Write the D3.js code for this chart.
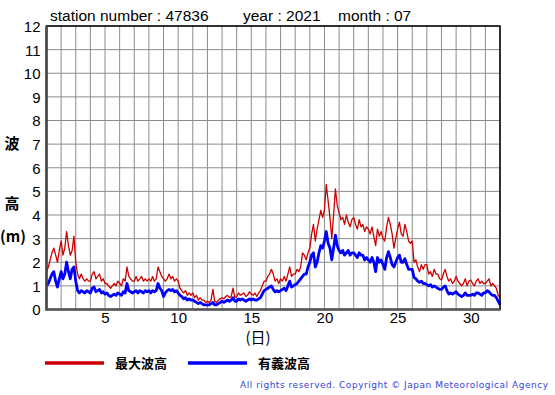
<!DOCTYPE html>
<html>
<head>
  <meta charset="utf-8">
  <title>wave height 47836 2021-07</title>
  <script src="https://cdn.jsdelivr.net/npm/d3@7/dist/d3.min.js"></script>
  <style>
    body { margin: 0; background: white; }
    svg { display: block; }
    .tick text { font-family: "Liberation Sans", Arial, sans-serif; font-size: 15px; fill: #000; }
    .ja { font-family: "Noto Sans CJK JP", sans-serif; }
  </style>
</head>
<body>
<div id="chart"></div>
<script>
// 3-hourly readings, starting day 1 00h, 8 per day, last value = day 32 00h
var maxWave = [
  1.6, 1.8, 2.1, 2.4, 2.6, 2.3, 2.0, 2.5,
  2.9, 2.3, 2.6, 3.3, 2.7, 2.3, 2.5, 3.1,
  2.0, 1.5, 1.3, 1.5, 1.3, 1.2, 1.3, 1.2,
  1.2, 1.5, 1.6, 1.3, 1.4, 1.5, 1.2, 1.3,
  1.1, 1.1, 1.0, 0.9, 1.0, 1.1, 1.0, 1.2,
  1.1, 1.0, 1.3, 1.2, 1.8, 1.4, 1.3, 1.2,
  1.2, 1.4, 1.2, 1.3, 1.4, 1.2, 1.3, 1.2,
  1.3, 1.2, 1.4, 1.2, 1.3, 1.8, 1.6, 1.4,
  1.3, 1.2, 1.3, 1.5, 1.3, 1.4, 1.2, 1.3,
  1.2, 0.9, 0.8, 0.7, 0.8, 0.6, 0.7, 0.6,
  0.7, 0.5, 0.6, 0.4, 0.5, 0.4, 0.4, 0.3,
  0.35, 0.3, 0.4, 0.85, 0.35, 0.3, 0.4, 0.45,
  0.5, 0.45, 0.55, 0.6, 0.5, 0.55, 0.9, 0.5,
  0.55, 0.7, 0.6, 0.65, 0.7, 0.55, 0.6, 0.75,
  0.65, 0.6, 0.7, 0.55, 0.7, 0.8, 1.0, 1.2,
  1.2, 1.4, 1.5, 1.7, 1.5, 1.2, 1.3, 1.1,
  1.3, 1.2, 1.4, 1.2, 1.5, 1.8, 1.4, 1.5,
  1.5, 1.7, 1.6, 1.8, 2.4, 2.3, 2.1, 2.4,
  2.6, 3.2, 3.6, 2.9, 3.4, 3.8, 4.2, 3.9,
  4.2, 5.3, 4.6, 3.9, 3.0, 4.0, 5.1, 4.4,
  4.1, 3.8, 3.9, 3.6, 4.0, 3.7, 3.5, 3.8,
  3.9, 3.6, 3.4, 3.8, 3.5, 3.6, 3.3, 3.5,
  3.4, 3.2, 3.5, 3.1, 2.7, 3.4, 3.1, 3.3,
  3.0, 2.9, 3.5, 3.9, 3.6, 3.2, 2.6, 3.0,
  3.4, 3.7, 3.2, 3.1, 3.6, 3.3, 2.9, 2.8,
  2.9, 2.0, 2.1, 1.8, 1.6, 1.9, 1.7, 1.9,
  1.9, 1.5, 1.6, 1.4, 1.7, 1.5, 1.5, 1.3,
  1.25, 1.5, 1.7, 1.4, 1.2, 1.3, 1.1, 1.2,
  1.4, 1.2, 1.1, 1.0, 1.1, 1.3, 1.0, 1.2,
  1.25, 1.1, 1.0, 1.2, 1.3, 1.1, 1.2, 1.1,
  1.1, 1.2, 1.3, 1.0, 1.1, 1.0, 0.9, 0.6,
  0.5
];
var sigWave = [
  1.0, 1.1, 1.3, 1.5, 1.6, 1.2, 0.95, 1.3,
  1.6, 1.3, 1.5, 2.0, 1.6, 1.3, 1.7, 1.8,
  1.2, 0.8, 0.7, 0.8, 0.75, 0.7, 0.8, 0.75,
  0.7, 0.9, 0.95, 0.75, 0.8, 0.85, 0.7, 0.75,
  0.65, 0.7, 0.6, 0.55, 0.6, 0.65, 0.6, 0.7,
  0.65, 0.6, 0.75, 0.7, 1.1, 0.8, 0.75, 0.7,
  0.75, 0.8, 0.7, 0.8, 0.75, 0.7, 0.8, 0.75,
  0.8, 0.7, 0.8, 0.75, 0.8, 1.1, 0.9, 0.8,
  0.55, 0.7, 0.8, 0.85, 0.8, 0.85, 0.75, 0.8,
  0.7, 0.6, 0.55, 0.45, 0.5, 0.4, 0.45, 0.4,
  0.4, 0.35, 0.3, 0.25, 0.3, 0.25, 0.2, 0.2,
  0.2, 0.2, 0.25, 0.3, 0.2, 0.2, 0.25, 0.3,
  0.35, 0.3, 0.35, 0.4, 0.35, 0.4, 0.5, 0.35,
  0.35, 0.45, 0.4, 0.45, 0.4, 0.35, 0.4, 0.45,
  0.4, 0.45, 0.4, 0.4, 0.45, 0.5, 0.65, 0.8,
  0.85, 0.9, 0.95, 1.0, 0.85, 0.75, 0.8, 0.75,
  0.8, 0.85, 0.9, 0.8, 1.0, 1.2, 0.95, 1.0,
  1.05, 1.1, 1.2, 1.3, 1.4, 1.5, 1.5, 1.8,
  2.0, 2.3, 2.4, 1.8, 2.0, 2.4, 2.7, 2.6,
  2.9, 3.3, 2.8, 2.6, 2.1, 2.6, 3.15, 2.7,
  2.5, 2.4, 2.5, 2.3, 2.4, 2.5, 2.3, 2.4,
  2.4, 2.3, 2.2, 2.4, 2.3, 2.3, 2.1, 2.2,
  2.1, 2.0, 2.2, 2.0, 1.6, 2.2, 2.0, 2.1,
  1.9, 1.7, 2.2, 2.45, 2.2, 1.9, 1.8, 2.0,
  2.2, 2.3, 2.0, 2.0, 2.15, 1.9, 1.7, 1.7,
  1.7, 1.35, 1.3, 1.2, 1.15, 1.2, 1.1, 1.1,
  1.05, 1.0, 1.05, 0.95, 1.0, 0.95, 0.9, 0.85,
  0.85, 0.95, 1.0, 0.8, 0.65, 0.7, 0.65, 0.7,
  0.75, 0.65, 0.6, 0.55, 0.6, 0.7, 0.6, 0.6,
  0.6, 0.65, 0.6, 0.7, 0.7, 0.65, 0.6, 0.7,
  0.7, 0.8, 0.75, 0.65, 0.6, 0.6, 0.5, 0.35,
  0.2
];
var stepsPerDay = 8;
var yTicks = [0, 1, 2, 3, 4, 5, 6, 7, 8, 9, 10, 11, 12];
var xTicks = [5, 10, 15, 20, 25, 30];
var titleParts = [
  {text: 'station number : 47836', x: 50},
  {text: 'year : 2021', x: 243},
  {text: 'month : 07', x: 338}
];
var legendItems = [
  {name: '最大波高', color: '#cc0000'},
  {name: '有義波高', color: '#0000ff'}
];

var W = 555, H = 395;
var svg = d3.select('#chart').append('svg').attr('width', W).attr('height', H);

var x = d3.scaleLinear().domain([1, 32]).range([46.5, 500]);
var y = d3.scaleLinear().domain([0, 12]).range([309.5, 26]);

// grid
svg.append('g').selectAll('line').data(d3.range(1, 33))
  .enter().append('line')
  .attr('x1', function (d) { return x(d); }).attr('x2', function (d) { return x(d); })
  .attr('y1', y(0)).attr('y2', y(12))
  .attr('stroke', '#8c8c8c').attr('stroke-width', 1);
svg.append('g').selectAll('line').data(yTicks)
  .enter().append('line')
  .attr('x1', x(1)).attr('x2', x(32))
  .attr('y1', function (d) { return y(d); }).attr('y2', function (d) { return y(d); })
  .attr('stroke', '#8c8c8c').attr('stroke-width', 1);

// series
function dayOf(i) { return 1 + i / stepsPerDay; }
var line = d3.line()
  .x(function (d, i) { return x(dayOf(i)); })
  .y(function (d) { return y(d); });

svg.append('path').datum(maxWave).attr('d', line)
  .attr('fill', 'none').attr('stroke', '#cc0000').attr('stroke-width', 1.3)
  .attr('stroke-linejoin', 'round');
svg.append('path').datum(sigWave).attr('d', line)
  .attr('fill', 'none').attr('stroke', '#0000ff').attr('stroke-width', 2.8)
  .attr('stroke-linejoin', 'round');

// frame
svg.append('rect').attr('x', x(1)).attr('y', y(12))
  .attr('width', x(32) - x(1)).attr('height', y(0) - y(12))
  .attr('fill', 'none').attr('stroke', '#000').attr('stroke-width', 1.5);
svg.append('line').attr('x1', x(1)).attr('x2', x(1)).attr('y1', y(12)).attr('y2', y(0) + 1)
  .attr('stroke', '#444').attr('stroke-width', 2.5);
svg.append('line').attr('x1', x(1) - 1).attr('x2', x(32)).attr('y1', y(0)).attr('y2', y(0))
  .attr('stroke', '#555').attr('stroke-width', 2.5);

// axes
var yAxis = svg.append('g').attr('transform', 'translate(' + (x(1) - 6) + ',0)')
  .call(d3.axisLeft(y).tickValues(yTicks).tickSize(0).tickPadding(0));
yAxis.select('.domain').remove();
yAxis.selectAll('text').attr('dy', '0.36em');

var xAxis = svg.append('g').attr('transform', 'translate(0,' + y(0) + ')')
  .call(d3.axisBottom(x).tickValues(xTicks).tickSize(0).tickPadding(3));
xAxis.select('.domain').remove();

// title
svg.append('g').selectAll('text').data(titleParts).enter().append('text')
  .attr('x', function (d) { return d.x; }).attr('y', 21)
  .style('font-family', '"Liberation Sans", Arial, sans-serif').style('font-size', '15.5px')
  .text(function (d) { return d.text; });

// axis labels
var yLab = svg.append('g').attr('class', 'ja').style('font-size', '15px').style('font-weight', 'bold');
yLab.append('text').attr('x', 12).attr('y', 149).attr('text-anchor', 'middle').text('波');
yLab.append('text').attr('x', 12).attr('y', 209).attr('text-anchor', 'middle').text('高');
yLab.append('text').attr('x', 13).attr('y', 242).attr('text-anchor', 'middle').text('(m)');
svg.append('text').attr('class', 'ja').attr('x', 258).attr('y', 343)
  .attr('text-anchor', 'middle').style('font-size', '15px').text('(日)');

// legend
var leg = svg.append('g').selectAll('g').data(legendItems).enter().append('g')
  .attr('transform', function (d, i) { return 'translate(' + (45 + i * 143) + ',363)'; });
leg.append('line').attr('x1', 0).attr('x2', 59).attr('y1', 0).attr('y2', 0)
  .attr('stroke', function (d) { return d.color; }).attr('stroke-width', 3.5);
leg.append('text').attr('class', 'ja').attr('x', 70).attr('y', 5)
  .style('font-size', '13px').style('font-weight', 'bold')
  .text(function (d) { return d.name; });

// copyright
svg.append('text').attr('x', 240).attr('y', 388)
  .attr('textLength', 308).attr('lengthAdjust', 'spacing')
  .style('font-family', '"DejaVu Sans", sans-serif').style('font-size', '9px')
  .style('fill', '#3344dd')
  .text('All rights reserved. Copyright © Japan Meteorological Agency');
</script>
</body>
</html>
